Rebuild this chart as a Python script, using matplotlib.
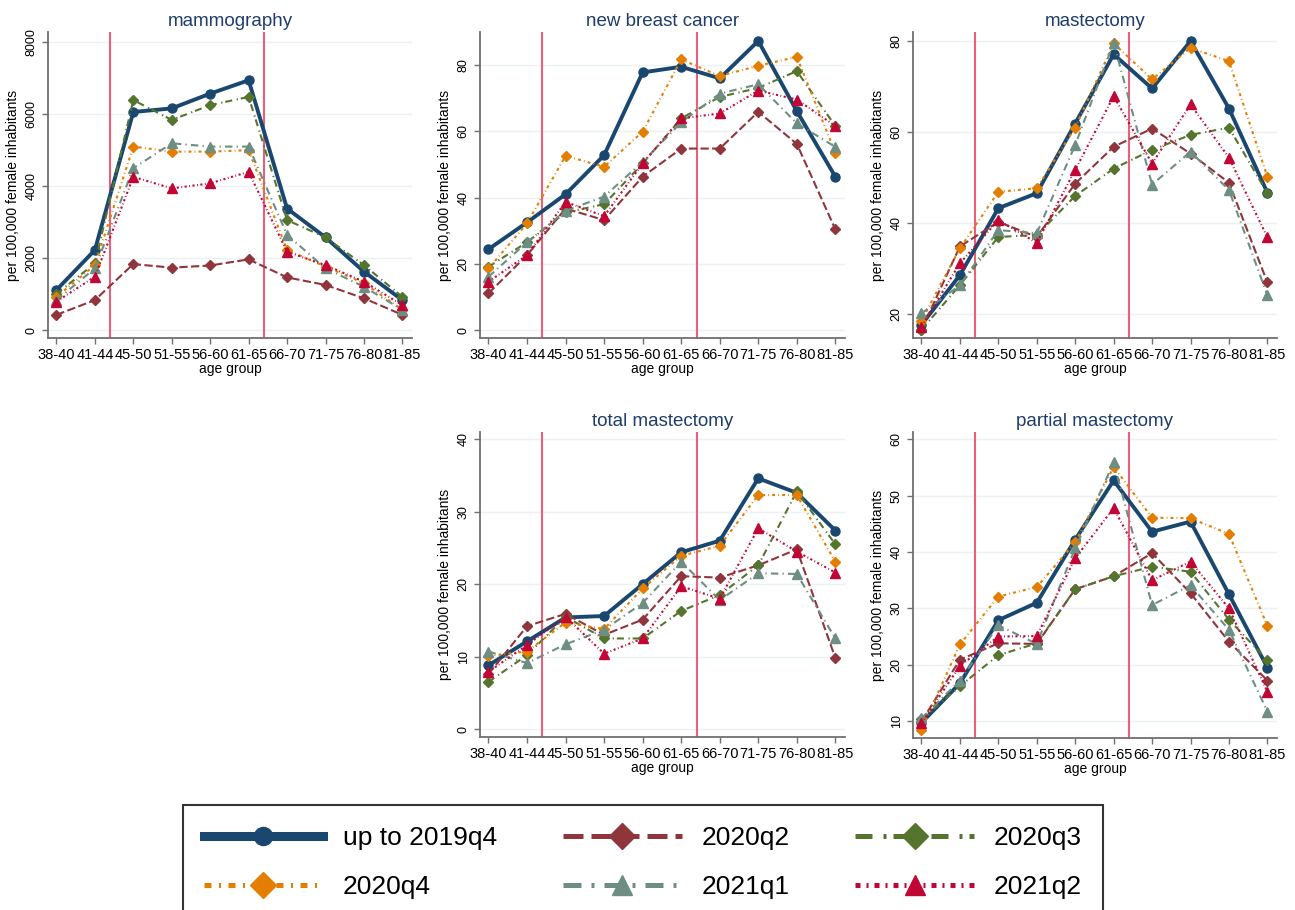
import matplotlib
matplotlib.use("Agg")
import matplotlib.pyplot as plt
from matplotlib.lines import Line2D

plt.rcParams['font.family'] = ['Liberation Sans', 'DejaVu Sans']

age_groups = ["38-40", "41-44", "45-50", "51-55", "56-60", "61-65", "66-70", "71-75", "76-80", "81-85"]
periods = ["up to 2019q4", "2020q2", "2020q3", "2020q4", "2021q1", "2021q2"]

# rows follow periods
mammography = [
    [1110, 2220, 6050, 6150, 6560, 6930, 3370, 2570, 1620, 830],
    [420, 830, 1830, 1730, 1790, 1960, 1460, 1250, 880, 420],
    [1000, 1850, 6380, 5830, 6240, 6470, 3050, 2570, 1800, 920],
    [920, 1800, 5090, 4950, 4950, 4990, 2220, 1760, 1300, 560],
    [830, 1710, 4490, 5180, 5090, 5090, 2640, 1710, 1200, 560],
    [790, 1480, 4250, 3930, 4070, 4390, 2170, 1800, 1340, 690],
]
new_cancer = [
    [24.4, 32.5, 41.0, 52.8, 77.8, 79.5, 76.0, 87.3, 66.1, 46.3],
    [11.1, 22.6, 36.7, 33.2, 46.3, 54.8, 54.8, 65.9, 56.2, 30.4],
    [19.1, 26.5, 35.5, 38.0, 50.3, 63.9, 70.4, 73.1, 78.2, 61.6],
    [18.6, 32.2, 52.6, 49.3, 59.9, 81.7, 76.7, 79.8, 82.5, 53.5],
    [16.1, 26.5, 36.0, 40.3, 50.8, 62.7, 71.4, 74.2, 62.4, 55.3],
    [14.6, 22.6, 38.7, 34.4, 50.3, 63.9, 65.4, 72.3, 69.6, 61.6],
]
mastectomy = [
    [17.7, 28.6, 43.3, 46.6, 61.9, 77.1, 69.6, 80.0, 65.2, 46.7],
    [16.6, 34.9, 40.3, 37.0, 48.7, 56.8, 60.8, 55.3, 48.9, 27.0],
    [16.6, 26.4, 37.0, 37.4, 46.0, 52.0, 56.1, 59.4, 61.0, 46.6],
    [18.6, 34.5, 46.9, 47.7, 61.0, 79.5, 71.6, 78.5, 75.6, 50.2],
    [20.2, 26.4, 38.5, 37.8, 57.2, 79.6, 48.5, 55.7, 47.3, 24.2],
    [17.3, 31.2, 40.7, 35.7, 51.7, 67.9, 53.1, 66.1, 54.4, 36.9],
]
total_mast = [
    [8.8, 12.1, 15.4, 15.6, 20.0, 24.4, 26.0, 34.6, 32.6, 27.4],
    [7.6, 14.2, 15.9, 13.0, 15.1, 21.1, 20.9, 22.6, 24.8, 9.8],
    [6.5, 10.2, 15.5, 12.5, 12.5, 16.3, 18.5, 22.6, 32.8, 25.5],
    [10.1, 10.7, 14.7, 13.8, 19.4, 23.9, 25.3, 32.3, 32.3, 23.1],
    [10.7, 9.1, 11.7, 13.7, 17.4, 23.1, 17.8, 21.5, 21.4, 12.5],
    [7.9, 11.6, 15.5, 10.4, 12.5, 19.7, 18.0, 27.7, 24.5, 21.6],
]
partial_mast = [
    [9.7, 16.7, 27.9, 31.0, 42.2, 52.7, 43.6, 45.4, 32.5, 19.5],
    [9.9, 20.9, 23.8, 23.7, 33.4, 35.7, 39.8, 32.7, 24.1, 17.2],
    [10.3, 16.2, 21.7, 23.8, 33.4, 35.7, 37.4, 36.5, 28.0, 20.8],
    [8.5, 23.6, 32.1, 33.8, 41.7, 55.1, 46.1, 46.0, 43.2, 26.9],
    [10.5, 17.2, 27.0, 23.7, 40.7, 55.9, 30.6, 34.1, 26.2, 11.7],
    [9.6, 19.8, 25.0, 25.1, 38.9, 47.8, 35.0, 38.3, 30.0, 15.2],
]

colors = ['#1a476f', '#90353b', '#55752f', '#e37e00', '#6e8e84', '#c10534']
markers = ['o', 'D', 'D', 'D', '^', '^']
dash_styles = [None, (4, 1.6), (3.4, 2.2, 0.6, 1.4), (1.4, 1.5, 0.4, 1.5),
               (3.6, 2, 0.6, 2), (1, 1.2, 0.4, 1.2)]
msizes = [6.5, 5.5, 5.5, 5.5, 7, 7]

W, H = 1295, 910
fig = plt.figure(figsize=(W / 100, H / 100), dpi=100)

def px_axes(left, top, right, bottom):
    return fig.add_axes([left / W, 1 - bottom / H, (right - left) / W, (bottom - top) / H])

panels = [
    ("mammography", mammography, (48, 32, 412, 338), (-222, 8270), [0, 2000, 4000, 6000, 8000]),
    ("new breast cancer", new_cancer, (480, 32, 845, 338), (-2.4, 90), [0, 20, 40, 60, 80]),
    ("mastectomy", mastectomy, (913, 32, 1277, 338), (14.8, 82), [20, 40, 60, 80]),
    ("total mastectomy", total_mast, (480, 432, 845, 737), (-1.1, 41), [0, 10, 20, 30, 40]),
    ("partial mastectomy", partial_mast, (913, 432, 1277, 738), (7.0, 61.3), [10, 20, 30, 40, 50, 60]),
]

x = list(range(len(age_groups)))

for title, data, box, ylim, yticks in panels:
    ax = px_axes(*box)
    for yt in yticks:
        ax.axhline(yt, color='#eaf2f3', lw=1, zorder=0)
    ax.axvline(1.4, color='#e8607a', lw=1.5, zorder=1)
    ax.axvline(5.4, color='#e8607a', lw=1.5, zorder=1)
    for i, vals in enumerate(data):
        line, = ax.plot(x, vals, color=colors[i], marker=markers[i], ms=msizes[i],
                        lw=2.8 if i == 0 else 1.5, zorder=3 + i)
        if dash_styles[i] is not None:
            line.set_dashes(dash_styles[i])
    ax.set_xlim(-0.22, 9.25)
    ax.set_ylim(*ylim)
    ax.set_xticks(x)
    ax.set_xticklabels(age_groups, fontsize=10.5)
    ax.set_yticks(yticks)
    ax.set_yticklabels([str(v) for v in yticks], fontsize=9, rotation=90, va='center')
    ax.set_xlabel("age group", fontsize=10, labelpad=0)
    ax.set_ylabel("per 100,000 female inhabitants", fontsize=10, labelpad=4)
    ax.set_title(title, fontsize=13.5, color='#1e3d6b', pad=4)
    for s in ['top', 'right']:
        ax.spines[s].set_visible(False)
    for s in ['left', 'bottom']:
        ax.spines[s].set_color('#707070')
        ax.spines[s].set_linewidth(1.3)
    ax.tick_params(direction='out', length=4.5, width=1, color='#707070', pad=3)

# legend proxies are bigger than the plotted marks
handles = []
for i in range(len(periods)):
    if i == 0:
        size = 13
    elif markers[i] == 'D':
        size = 13
    else:
        size = 15
    h = Line2D([], [], color=colors[i], marker=markers[i],
               lw=6.5 if i == 0 else 3.6, ms=size)
    if dash_styles[i] is not None:
        h.set_dashes(dash_styles[i])
    handles.append(h)

order = [0, 3, 1, 4, 2, 5]
leg = fig.legend([handles[k] for k in order], [periods[k] for k in order],
                 loc='upper left', bbox_to_anchor=(183 / W, 1 - 805 / H), ncol=3,
                 fontsize=19, handlelength=4.5, handletextpad=0.75, columnspacing=2.5,
                 borderpad=0.8, labelspacing=0.95, borderaxespad=0,
                 fancybox=False, framealpha=1)
leg.get_frame().set_edgecolor('#333333')
leg.get_frame().set_linewidth(1.5)

fig.savefig("out.png", dpi=100)
